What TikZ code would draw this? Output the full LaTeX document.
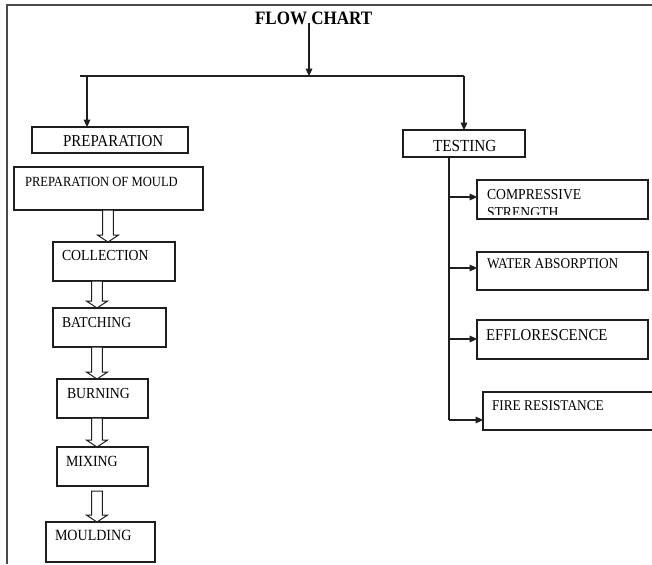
\documentclass[tikz,border=0pt]{standalone}
\usepackage{fontspec}
\setmainfont[FakeStretch=0.9]{Liberation Serif}
\usetikzlibrary{arrows.meta,calc}
\definecolor{ink}{HTML}{1E1E1E}
\definecolor{framec}{HTML}{4A4A4A}
\newcommand\fsz[1]{\fontsize{#1}{#1}\selectfont}
\newcommand\bx[5]{\node[box,minimum width={(#4-#2)*0.75pt},minimum height={(#5-#3)*0.75pt}] (#1) at (#2,#3) {};}
\newcommand\hollow[4]{%
  \draw[hol] let \p1=(#1.south),\p2=(#2.north) in
  ({#3*0.75pt-4.1pt},{\y1-#4*0.75pt}) -- ({#3*0.75pt-4.1pt},{\y2+5.2pt}) --
  ({#3*0.75pt-7.9pt},{\y2+5.2pt}) -- ({#3*0.75pt},\y2) --
  ({#3*0.75pt+7.9pt},{\y2+5.2pt}) -- ({#3*0.75pt+4.1pt},{\y2+5.2pt}) --
  ({#3*0.75pt+4.1pt},{\y1-#4*0.75pt}) -- cycle;}
\begin{document}
\begin{tikzpicture}[x=0.75pt,y=-0.75pt,
  box/.style={draw=ink,line width=0.9pt,inner sep=0pt,outer sep=0pt,anchor=north west},
  lbl/.style={anchor=base west,inner sep=0pt,outer sep=0pt,text=black},
  conn/.style={draw=ink,line width=0.8pt},
  arr/.style={conn,-{Triangle[length=5.5pt,width=5pt]}},
  hol/.style={draw=ink,line width=0.75pt,fill=white,line join=miter},
  frameline/.style={draw=framec,line width=1.4pt}]
\useasboundingbox (0,0) rectangle (652,564);
\clip (0,0) rectangle (652,564);
% frame
\coordinate (f0) at (7,5);
\coordinate (f1) at (652,5);
\coordinate (f2) at (7,564);
\draw[frameline] (f1) -- (f0) -- (f2);
% title
\node[lbl,font=\bfseries\fsz{14.2}] (title) at (255,24) {FLOW CHART};
\coordinate (tt) at (309,23);
\coordinate (hl) at (80,76);
\coordinate (hr) at (464,76);
\draw[conn] (hl) -- (hr);
\draw[arr] (tt) -- (tt |- hl);
% left column
\bx{prep}{32}{127}{188}{153}
\node[lbl,font=\fsz{12.5}] (prept) at (63,146) {PREPARATION};
\coordinate (lb) at (87,76);
\draw[arr] (lb) -- (lb |- prep.north);
\bx{mould}{14}{167}{203}{210}
\node[lbl,font=\fsz{10.5}] (mouldt) at (25,186) {PREPARATION OF MOULD};
\bx{coll}{53}{242}{175}{281}
\node[lbl,font=\fsz{11.5}] (collt) at (62,260) {COLLECTION};
\bx{batch}{53}{308}{166}{347}
\node[lbl,font=\fsz{11.4}] (batcht) at (62,327) {BATCHING};
\bx{burn}{57}{379}{148}{418}
\node[lbl,font=\fsz{11.5}] (burnt) at (67,398) {BURNING};
\bx{mix}{57}{447}{148}{486}
\node[lbl,font=\fsz{11.6}] (mixt) at (66,466) {MIXING};
\bx{mold}{46}{522}{155}{562}
\node[lbl,font=\fsz{11.7}] (moldt) at (55,540) {MOULDING};
\hollow{mould}{coll}{108}{0}
\hollow{coll}{batch}{97}{0}
\hollow{batch}{burn}{97}{0}
\hollow{burn}{mix}{97}{0}
\hollow{mix}{mold}{97}{5}
% right column
\bx{test}{403}{130}{525}{157}
\node[lbl,font=\fsz{12.7}] (testt) at (433,151) {TESTING};
\draw[arr] (hr) -- (hr |- test.north);
\bx{comp}{477}{180}{648}{219}
\node[lbl,font=\fsz{11.4}] (compt) at (487,199) {COMPRESSIVE};
\begin{scope}
\clip (480,203) rectangle (640,214);
\node[lbl,font=\fsz{11.4}] (compt2) at (487,217) {STRENGTH};
\end{scope}
\bx{water}{477}{252}{648}{290}
\node[lbl,font=\fsz{11.1}] (watert) at (487,268) {WATER ABSORPTION};
\bx{effl}{477}{320}{648}{359}
\node[lbl,font=\fsz{12.4}] (efflt) at (486,340) {EFFLORESCENCE};
\bx{fire}{483}{392}{680}{430}
\node[lbl,font=\fsz{11.1}] (firet) at (492,410) {FIRE RESISTANCE};
\coordinate (a1) at (449,197);
\coordinate (a2) at (449,268);
\coordinate (a3) at (449,339);
\coordinate (a4) at (449,420);
\draw[conn] (a4 |- test.south) -- (a4);
\draw[arr] (a1) -- (a1 -| comp.west);
\draw[arr] (a2) -- (a2 -| water.west);
\draw[arr] (a3) -- (a3 -| effl.west);
\draw[arr] (a4) -- (a4 -| fire.west);
\end{tikzpicture}
\end{document}
